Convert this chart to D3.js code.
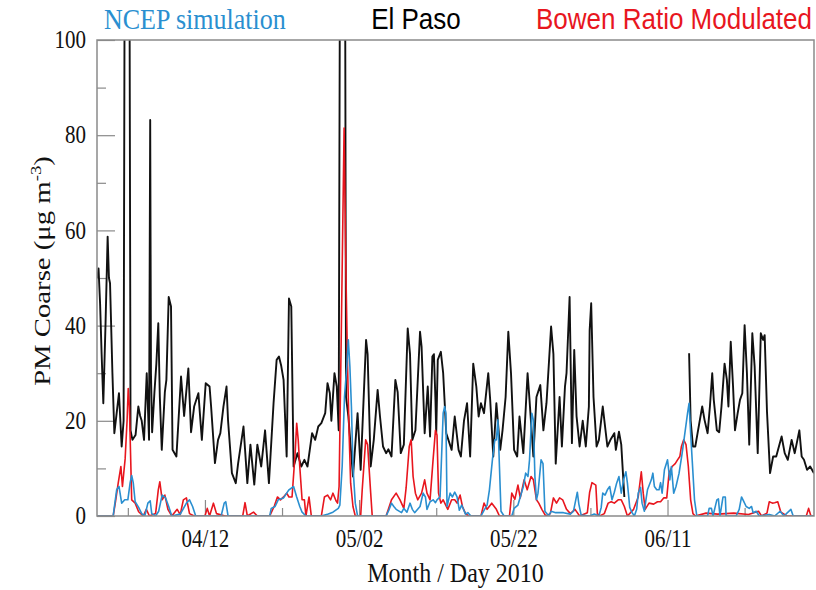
<!DOCTYPE html>
<html>
<head>
<meta charset="utf-8">
<script src="https://cdn.jsdelivr.net/npm/d3@7"></script>
<style>
  body { margin: 0; background: #fff; }
  svg { display: block; }
</style>
</head>
<body>
<svg id="chart" width="816" height="590"></svg>
<script>
// Time is given as days after 29 March 2010 (00:00)
const startDate = new Date(2010, 2, 29);
const endDay = 93;

// El Paso observed PM coarse (null marks the missing stretch)
const pasoDay = [0.05,0.2,0.4,0.6,0.82,1.1,1.38,1.55,1.69,2.0,2.25,2.55,2.85,3.2,3.45,3.62,4.18,4.35,4.6,5.0,5.36,5.6,5.8,6.1,6.45,6.75,6.9,7.0,7.15,7.45,7.7,7.95,8.15,8.4,8.8,9.0,9.3,9.6,9.8,10.3,10.9,11.3,11.85,12.2,12.6,13.15,13.6,14.1,14.6,14.8,15.3,15.7,16.0,16.4,16.8,17.0,17.5,18.0,18.3,19.0,19.5,19.9,20.4,20.8,21.3,21.8,22.3,22.9,23.3,23.6,23.9,24.2,24.6,24.9,25.2,25.5,26.0,26.5,26.9,27.3,27.9,28.3,28.7,29.1,29.6,29.9,30.2,30.4,30.8,31.1,31.35,31.55,32.15,32.3,32.6,33.2,33.8,34.2,34.9,35.1,35.5,35.9,36.4,36.7,37.1,37.5,37.8,38.2,38.7,39.0,39.4,39.8,40.3,40.6,40.9,41.3,41.9,42.1,42.5,42.9,43.2,43.5,43.7,43.9,44.0,44.2,44.6,44.9,45.3,46.0,46.4,46.9,47.2,47.6,48.0,48.4,48.8,49.2,49.5,49.8,50.2,50.75,51.0,51.4,51.8,52.3,52.6,53.0,53.35,53.7,54.1,54.5,54.8,55.3,55.85,56.1,56.6,57.0,57.5,57.9,58.3,58.9,59.2,59.5,60.0,60.3,60.7,60.9,61.3,61.6,61.9,62.2,62.6,63.0,63.4,63.8,63.9,64.1,64.4,64.8,65.1,65.6,66.0,66.2,66.6,67.1,67.3,67.7,68.0,68.4,72.0,76.8,77.0,77.3,77.6,77.9,78.5,78.8,79.2,79.5,79.8,80.0,80.4,80.7,81.0,81.4,81.7,81.9,82.2,82.5,82.75,83.1,83.4,83.7,84.0,84.3,84.6,85.0,85.3,85.7,86.1,86.4,86.6,86.9,87.3,87.7,88.1,88.8,89.2,89.6,90.1,90.5,91.1,91.4,91.7,92.1,92.5,93.0];
const pasoVal = [50,52,44.7,34,23.7,40,58.7,50,48.9,30,17.4,21.6,25.8,14.6,20,140,140,18,16,17,23,21,20,16,30,16,83.2,30,17.6,26,32,40.5,25,13.9,26,28.6,46,44,13.9,12.5,29.3,21,31,17.6,23,25.8,16,27.9,27.2,23,11.1,16,17.4,23,27.2,20,9,6.9,11,18.8,6.9,15,6.6,15,10.4,18,6.9,23.7,32.8,33.5,31.5,28.6,12.5,45.7,44,10.4,13.2,10.4,11.8,10.4,17.4,16,18.8,19.5,21.6,27.9,25.8,20,30,27.2,18,140,140,25,21,8.3,21.6,9.7,37,34,10.4,16,26.5,21,14.6,13.2,14,12.5,28.6,26,13.2,15,39.4,34,16,18,38.7,35.6,17.4,27.2,16.7,33.5,34,24.4,17.4,32.8,34.5,30,17.4,13.9,20.9,13.9,12.5,20,23.7,12.5,32,27.2,20.9,23.7,21.6,30,24.4,12.5,23.7,13.9,18,25,38.7,30,13.9,12.5,20.9,13.2,30,24.4,12.5,25,27.5,18,23.7,39.8,34,11,25,14.6,27.2,30,46,15.3,34.9,21,14.6,20,14.6,23,39,44.7,25,14.6,16,23,17.4,14.6,16,17.4,13.9,17.7,15,4,null,34.2,20,14.6,14.6,17.4,23,20.2,17.4,23,30,24.4,18,17.6,23,32,28.6,23,36.6,27.2,18,21.6,24.4,25.8,40.1,30,15,38.4,31.4,13.2,38.4,37,38,22,9,12.5,12.5,16.7,13.2,11.8,16,13.2,18,12.5,11.8,9.7,10.4,9];

// Bowen Ratio Modulated simulation
const bowenDay = [0,2.1,2.4,2.75,3.1,3.3,3.65,3.9,4.05,4.2,4.5,4.95,5.4,6.0,6.4,6.8,7.6,7.95,8.15,8.45,8.8,9.2,9.7,10.4,10.8,11.2,11.6,12.0,12.6,14.0,14.3,14.6,15.1,15.5,16.6,18.9,19.2,19.5,20.3,20.8,22.4,23.0,23.4,23.8,24.2,24.6,24.9,25.3,25.7,25.9,26.1,26.3,26.6,26.9,27.1,27.5,27.8,29.1,29.5,29.9,30.3,30.6,31.0,31.2,31.4,31.7,32.05,32.3,32.5,32.7,32.9,33.2,33.5,34.2,34.4,34.85,35.1,35.5,35.7,37.5,38.2,38.8,39.3,39.8,40.1,40.5,40.75,41.0,41.3,41.6,42.1,42.5,42.8,43.2,43.6,43.9,44.1,44.3,44.6,44.9,45.5,46.0,46.4,46.7,47.1,47.4,47.8,48.2,49.8,50.2,50.6,51.2,51.8,52.2,53.5,53.8,54.2,54.6,54.9,55.4,55.8,56.3,56.6,57.0,57.3,57.7,58.2,58.8,59.2,59.6,60.0,60.4,60.9,61.4,62.0,62.6,63.6,63.9,64.2,64.7,64.9,65.2,65.8,66.3,66.7,67.1,67.6,68.0,68.4,68.8,69.6,70.2,70.6,70.85,71.1,71.6,72.2,72.7,73.1,73.5,73.9,74.2,74.6,75.0,75.3,75.6,75.8,76.1,76.4,76.7,77.0,77.3,77.6,79.0,80.5,82.6,84.5,85.8,86.2,86.9,87.2,87.6,87.9,88.3,88.7,89.5,92.0,92.3,92.6,93.0];
const bowenVal = [0,0,3,6.9,10.4,6.2,12,20,26.8,23,3.4,2.7,0.9,0,1.4,0,0.5,5.5,7.2,3.4,4.4,1.4,0,1.4,0.3,3.4,3.8,0.5,0,0,1.6,0,2.7,0.5,0,0,2.8,0,0.8,0,0,2.1,4,3.4,4,4.8,4,4,13.2,19.5,16,10.4,3.4,3.4,0,4,0,0,4,4.4,3.4,4.8,3.2,2.7,6.2,40,81.5,50,31.4,17.4,6.9,2,0,0,5.5,16,15,4.8,0,0,3.4,4.8,3.4,1.6,6,14.6,16,8.3,4.8,3.4,4.8,7.6,4.8,3.4,12,18,17,4.8,2.7,3.4,1.4,3.4,3.4,2.7,4.4,2,0.5,0,0,2.7,1.4,2.7,1.4,0,0,4.8,3.5,6.5,3.8,7.6,5.5,8.3,7.6,3.4,2.7,1.4,0,0.5,3.8,2.7,3.8,3.4,1.4,0.5,1.4,0,0.7,5,7,6.5,0.5,0,0.5,2.7,3,2.7,3.4,3.4,2,0,1.4,4,9.3,4.8,1.4,2.7,2.5,3,3,3.8,3.8,9,10.4,11,11.8,12.5,14.6,16,15,10.4,3.4,0.5,0,0.6,0.4,0.6,0.3,1,0,0.6,3,2.7,2.8,3,0.8,0,0,1.6,0,0];

// NCEP simulation
const ncepDay = [0,2.1,2.3,2.55,2.85,3.2,3.6,4.0,4.3,4.5,4.7,4.95,5.4,5.8,6.2,6.6,6.9,7.1,7.6,8.0,8.45,8.9,9.3,9.7,10.8,11.6,12.0,12.4,12.8,16.1,16.5,16.7,17.0,22.4,22.6,23.1,23.5,24.2,24.6,24.9,25.5,25.9,26.3,26.6,27.1,29.1,30.0,30.6,31.3,31.5,31.8,32.1,32.4,32.6,32.8,33.0,33.2,33.5,33.8,37.5,37.9,38.2,38.5,38.8,39.5,39.8,40.2,40.6,40.9,41.2,41.9,42.3,42.6,42.8,43.2,43.6,43.9,44.1,44.5,44.75,44.9,45.1,45.25,45.4,45.6,45.8,46.1,46.4,46.7,47.0,47.3,47.8,48.1,48.5,49.8,50.2,50.6,50.9,51.3,51.6,51.8,52.0,52.2,52.4,52.8,53.8,54.1,54.6,55.3,55.6,55.9,56.1,56.4,56.6,56.8,57.0,57.2,57.6,57.85,58.1,58.6,58.9,59.5,60.5,61.4,61.8,62.1,62.3,62.5,62.8,63.9,64.5,65.1,65.4,65.6,65.9,66.2,66.5,66.8,67.1,67.4,67.7,68.0,68.3,68.6,68.8,69.1,69.4,69.7,70.0,70.2,70.5,70.7,71.0,71.2,71.4,71.9,72.1,72.3,72.6,72.9,73.1,73.3,73.6,74.0,74.3,74.5,74.8,75.1,75.5,75.9,76.3,76.6,76.8,77.0,77.2,77.5,77.8,79.2,79.4,79.7,79.9,80.4,80.6,80.8,81.2,81.5,81.6,82.9,83.3,83.6,83.9,84.2,84.6,84.9,85.1,85.5,85.9,87.2,87.9,88.6,89.1,90.0,90.3,93.0];
const ncepVal = [0,0,2.5,5.5,6.2,2.7,3.4,3.4,7,8.5,7,3,1.8,0.5,0,2.7,3.2,0.5,0,1,4.4,3.8,2,0,0.4,2.7,3.4,2,0,0,2.7,3,0,0,1.6,2,3.4,3.8,4.8,5.5,6.2,4,2,0.8,0,0,0.4,0.8,1.6,2.3,10.4,25,31.4,37,31.4,23,10.4,2.7,0,0,1.4,2.7,2,1.4,0.7,1.6,0.8,2.7,1.4,0.7,2,4.8,4,1.4,3,3.4,2.8,3.4,4,15,21.6,23,21.6,2,3.4,4.8,4,5,4,1.2,2.3,0.4,0.7,0,0,1.2,2.3,5.5,12,16,16,20.2,10.4,1,0,0,1.6,2.3,6.2,9,8.3,11.8,21.6,20.2,8.3,3.4,4.8,11.8,11,1,0,1,0.7,0.7,0.4,1,3.4,5,2.5,0.2,0,0.4,0,1.8,4.8,4.4,5.5,6.2,3.4,5,6.9,8.3,4.8,7.6,9.3,6.9,1.8,0.7,0,1.4,4.8,6,2.7,1,3.4,5.5,7.6,9,6.2,5.5,5.5,7,4.8,9.7,11.8,7.6,10.4,4.8,6.2,9,13.2,18,21.6,23.7,17.4,11.8,3.4,0,0,1.6,1.6,0,3.4,3.6,0,4,4,0,0,1.4,4,3,2,1.6,2,0.7,1,0,0.3,0,1,0,1.4,0,0];

// Axis ticks and header texts
const yMajorTicks = [0, 20, 40, 60, 80, 100];
const yMinorTicks = [10, 30, 50, 70, 90];
const xLabelDays = [14, 34, 54, 74];      // 04/12, 05/02, 05/22, 06/11
const xMinorDays = [4, 24, 44, 64, 84];   // 04/02, 04/22, 05/12, 06/01, 06/21
const headers = [
  { text: "NCEP simulation", color: "#2a8fd0", font: "'Liberation Serif', 'Times New Roman', serif", x: 104, anchor: "start" },
  { text: "El Paso", color: "#000000", font: "'Liberation Sans', Arial, sans-serif", x: 416, anchor: "middle" },
  { text: "Bowen Ratio Modulated", color: "#e8161e", font: "'Liberation Sans', Arial, sans-serif", x: 812, anchor: "end" }
];

const serif = "'Liberation Serif', 'Times New Roman', serif";
const plot = { left: 97, top: 40, right: 814, bottom: 516 };
const stretch = 1.15;   // glyphs are drawn slightly taller than wide
const toDate = d => d3.timeMinute.offset(startDate, Math.round(d * 1440));

const svg = d3.select("#chart");

const x = d3.scaleTime()
  .domain([startDate, toDate(endDay)])
  .range([plot.left, plot.right]);
const y = d3.scaleLinear()
  .domain([0, 100])
  .range([plot.bottom, plot.top]);

svg.append("defs").append("clipPath").attr("id", "plotClip")
  .append("rect")
  .attr("x", plot.left).attr("y", plot.top)
  .attr("width", plot.right - plot.left).attr("height", plot.bottom - plot.top);

// Inner tick marks
const tickColor = "#8a8a8a";
const yMajor = svg.append("g")
  .attr("transform", `translate(${plot.left},0)`)
  .call(d3.axisLeft(y).tickValues(yMajorTicks).tickSize(-18).tickPadding(11).tickFormat(d3.format("d")));
const yMinor = svg.append("g")
  .attr("transform", `translate(${plot.left},0)`)
  .call(d3.axisLeft(y).tickValues(yMinorTicks).tickSize(-9).tickFormat(""));
const xMajor = svg.append("g")
  .attr("transform", `translate(0,${plot.bottom})`)
  .call(d3.axisBottom(x).tickValues(xLabelDays.map(toDate)).tickSize(-16).tickPadding(12).tickFormat(d3.timeFormat("%m/%d")));
const xMinor = svg.append("g")
  .attr("transform", `translate(0,${plot.bottom})`)
  .call(d3.axisBottom(x).tickValues(xMinorDays.map(toDate)).tickSize(-8).tickFormat(""));

[yMajor, yMinor, xMajor, xMinor].forEach(g => {
  g.select(".domain").remove();
  g.selectAll(".tick line").attr("stroke", tickColor).attr("stroke-width", 1.2);
  g.selectAll("text")
    .attr("font-family", serif).attr("font-size", 21).attr("fill", "#111")
    .attr("transform", `scale(1,${stretch})`);
});

// Series lines
const line = d3.line()
  .defined(d => d.v !== null)
  .x(d => x(d.t))
  .y(d => y(d.v));

function series(days, vals) {
  return days.map((d, i) => ({ t: toDate(d), v: vals[i] }));
}

const lines = svg.append("g").attr("clip-path", "url(#plotClip)");
lines.append("path")
  .datum(series(pasoDay, pasoVal))
  .attr("d", line)
  .attr("fill", "none").attr("stroke", "#111").attr("stroke-width", 1.9).attr("stroke-linejoin", "round");
lines.append("path")
  .datum(series(bowenDay, bowenVal))
  .attr("d", line)
  .attr("fill", "none").attr("stroke", "#e8161e").attr("stroke-width", 1.6).attr("stroke-linejoin", "round");
lines.append("path")
  .datum(series(ncepDay, ncepVal))
  .attr("d", line)
  .attr("fill", "none").attr("stroke", "#2a8fd0").attr("stroke-width", 1.6).attr("stroke-linejoin", "round");

// Plot frame
svg.append("rect")
  .attr("x", plot.left).attr("y", plot.top)
  .attr("width", plot.right - plot.left).attr("height", plot.bottom - plot.top)
  .attr("fill", "none").attr("stroke", tickColor).attr("stroke-width", 1.5);

// Axis titles
svg.append("text")
  .attr("transform", `translate(${(plot.left + plot.right) / 2},582) scale(1,${stretch})`)
  .attr("text-anchor", "middle")
  .attr("font-family", serif).attr("font-size", 24).attr("fill", "#111")
  .text("Month / Day 2010");

const yTitle = svg.append("text")
  .attr("transform", "translate(50,271) rotate(-90) scale(1.25,1)")
  .attr("text-anchor", "middle")
  .attr("font-family", serif).attr("font-size", 23).attr("fill", "#111");
yTitle.append("tspan").text("PM Coarse (\u03BCg m");
yTitle.append("tspan").attr("dy", -9).attr("font-size", 15).text("-3");
yTitle.append("tspan").attr("dy", 9).text(")");

// Header labels
svg.selectAll("text.header")
  .data(headers)
  .join("text")
  .attr("class", "header")
  .attr("transform", d => `translate(${d.x},29) scale(1,1.13)`)
  .attr("text-anchor", d => d.anchor)
  .attr("font-family", d => d.font)
  .attr("font-size", 26)
  .attr("fill", d => d.color)
  .text(d => d.text);
</script>
</body>
</html>
